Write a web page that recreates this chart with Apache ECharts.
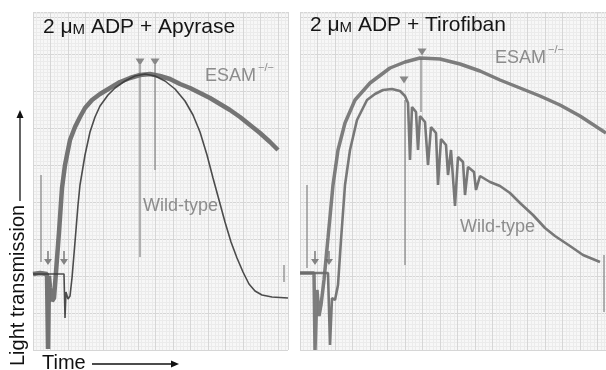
<!DOCTYPE html>
<html>
<head>
<meta charset="utf-8">
<script src="https://cdn.jsdelivr.net/npm/echarts@6/dist/echarts.min.js"></script>
<style>
  html, body { margin: 0; padding: 0; background: #fff; }
  #chart { width: 606px; height: 370px; }
</style>
</head>
<body>
<div id="chart"></div>
<script>
// traces, [time, transmission] (arbitrary units)
const esamApyrase = [
  [0, 76], [7, 77], [14, 76], [15, 76], [15, 1], [16, 74], [17, 62], [19, 49], [21, 52],
  [23, 78], [26, 118], [29, 162], [32, 185], [37, 210], [42, 223], [47, 233], [52, 242],
  [59, 250], [67, 256], [77, 262], [87, 268], [97, 272], [107, 275], [117, 276], [127, 274],
  [137, 271], [147, 266], [157, 262], [167, 257], [177, 252], [187, 246], [197, 240],
  [207, 233], [217, 225], [227, 217], [237, 208], [245, 200]
];
const wtApyrase = [
  [0, 76], [31, 76], [32, 74], [32, 32], [33, 58], [35, 51], [37, 54], [39, 72], [42, 108],
  [45, 145], [47, 165], [52, 195], [57, 218], [62, 233], [67, 244], [75, 255], [82, 262],
  [92, 269], [102, 274], [112, 276], [122, 274], [132, 269], [142, 261], [152, 249],
  [160, 235], [167, 218], [174, 195], [180, 172], [186, 150], [192, 128], [198, 108],
  [204, 92], [210, 78], [216, 66], [222, 59], [229, 55], [239, 53], [255, 52]
];
const esamTirofiban = [
  [0, 77], [14, 77], [15, 77], [15, 0], [17, 60], [19, 34], [21, 45], [24, 70], [28, 112],
  [33, 165], [38, 200], [45, 227], [55, 250], [70, 267], [90, 282], [105, 288], [120, 292],
  [140, 291], [160, 286], [180, 279], [200, 270], [220, 262], [240, 254], [260, 245],
  [280, 234], [306, 217]
];
const wtTirofiban = [
  [0, 77], [28, 77], [30, 75], [30, 5], [32, 52], [35, 50], [38, 65], [41, 110], [45, 165],
  [50, 200], [57, 230], [67, 250], [75, 256], [83, 260], [92, 261], [100, 259], [105, 254],
  [108, 247], [110, 190], [112, 243], [116, 238], [118, 200], [120, 234], [125, 228],
  [128, 185], [131, 223], [136, 217], [138, 165], [141, 211], [146, 205], [148, 175],
  [151, 200], [155, 144], [158, 193], [163, 188], [165, 155], [168, 183], [174, 178],
  [176, 160], [180, 174], [190, 168], [200, 164], [210, 157], [220, 147], [233, 135],
  [245, 122], [255, 114], [270, 104], [283, 95], [300, 88]
];
// recorder marks: vertical pen strokes [time, top, bottom]
const strokesApyrase = [[8, 175, 88], [107, 285, 93], [122, 285, 180], [251, 85, 68]];
const strokesTirofiban = [[7, 165, 82], [105, 250, 85], [121, 292, 238], [304, 95, 38]];
const peaksApyrase = [[107, 288], [122, 288]];
const peaksTirofiban = [[104, 270], [122, 298]];
const addApyrase = [[15, 92], [31, 92]];
const addTirofiban = [[15, 92], [29, 92]];

const FONT = '"Liberation Sans", Arial, sans-serif';
const chart = echarts.init(document.getElementById('chart'));

const paperAxis = (max, interval, minor) => ({
  type: 'value', min: 0, max: max, interval: interval,
  axisLine: { show: false }, axisTick: { show: false }, axisLabel: { show: false },
  splitLine: { show: true, lineStyle: { color: '#d6d6d6', width: 1 } },
  minorTick: { show: false, splitNumber: minor },
  minorSplitLine: { show: true, lineStyle: { color: '#ebebeb', width: 1 } }
});

const trace = (data, idx, color, width) => ({
  type: 'line', xAxisIndex: idx, yAxisIndex: idx, data: data, symbol: 'none',
  lineStyle: { color: color, width: width, opacity: 0.9 }, silent: true, z: 3
});

const strokes = (list, idx) => list.map(s => ({
  type: 'line', xAxisIndex: idx, yAxisIndex: idx, symbol: 'none', silent: true,
  data: [[s[0], s[1]], [s[0], s[2]]], lineStyle: { color: '#8a8a8a', width: 1.3 }, z: 2
}));

const peaks = (data, idx) => ({
  type: 'scatter', xAxisIndex: idx, yAxisIndex: idx, data: data, symbol: 'triangle',
  symbolRotate: 180, symbolSize: [9, 7], itemStyle: { color: '#6e6e6e' }, silent: true, z: 4
});

const arrowPath = 'path://M4,0 L6,0 L6,8 L10,8 L5,14 L0,8 L4,8 Z';
const adds = (data, idx) => ({
  type: 'scatter', xAxisIndex: idx, yAxisIndex: idx, data: data, symbol: arrowPath,
  symbolSize: [8, 14], itemStyle: { color: '#666' }, silent: true, z: 4
});

const label = (x, y, text, size, color) => ({
  type: 'text', x: x, y: y, z: 10,
  style: { text: text, font: size + 'px ' + FONT, fill: color, verticalAlign: 'middle', align: 'left' }
});

const title = (x, y, rest) => ({
  type: 'text', x: x, y: y, z: 10,
  style: {
    text: '{a|2 μ}{b|M}{a| ADP + ' + rest + '}', verticalAlign: 'middle', align: 'left',
    rich: {
      a: { fontSize: 21, fontFamily: FONT, fill: '#151515', lineHeight: 24, verticalAlign: 'bottom' },
      b: { fontSize: 15, fontFamily: FONT, fill: '#151515', lineHeight: 24, verticalAlign: 'bottom', padding: [0, 0, 1, 0] }
    }
  }
});

chart.setOption({
  animation: false,
  backgroundColor: '#fff',
  grid: [
    { left: 33, top: 12, width: 255, height: 338, show: true, backgroundColor: '#f7f7f7', borderWidth: 0 },
    { left: 300, top: 12, width: 306, height: 338, show: true, backgroundColor: '#f7f7f7', borderWidth: 0 }
  ],
  xAxis: [
    Object.assign(paperAxis(255, 17.5, 5), { gridIndex: 0 }),
    Object.assign(paperAxis(306, 17.5, 5), { gridIndex: 1 })
  ],
  yAxis: [
    Object.assign(paperAxis(338, 37, 10), { gridIndex: 0 }),
    Object.assign(paperAxis(338, 37, 10), { gridIndex: 1 })
  ],
  series: [
    ...strokes(strokesApyrase, 0),
    ...strokes(strokesTirofiban, 1),
    trace(esamApyrase, 0, '#666666', 4.5),
    trace(wtApyrase, 0, '#3a3a3a', 1.6),
    trace(esamTirofiban, 1, '#707070', 3.5),
    trace(wtTirofiban, 1, '#6a6a6a', 2.6),
    peaks(peaksApyrase, 0),
    peaks(peaksTirofiban, 1),
    adds(addApyrase, 0),
    adds(addTirofiban, 1)
  ],
  graphic: [
    title(43, 26, 'Apyrase'),
    title(310, 24, 'Tirofiban'),
    label(205, 76, 'ESAM', 18, '#8c8c8c'),
    label(258, 68, '−/−', 11, '#8c8c8c'),
    label(495, 58, 'ESAM', 18, '#8c8c8c'),
    label(548, 50, '−/−', 11, '#8c8c8c'),
    label(143, 206, 'Wild-type', 18, '#8c8c8c'),
    label(460, 227, 'Wild-type', 18, '#8c8c8c'),
    {
      type: 'text', x: 18, y: 366, rotation: Math.PI / 2, z: 10,
      style: { text: 'Light transmission', font: '20px ' + FONT, fill: '#111', align: 'left', verticalAlign: 'middle' }
    },
    { type: 'line', shape: { x1: 20, y1: 201, x2: 20, y2: 116 }, style: { stroke: '#111', lineWidth: 1.3 } },
    { type: 'polygon', shape: { points: [[20, 110], [16.5, 118], [23.5, 118]] }, style: { fill: '#111' } },
    label(42, 363, 'Time', 20, '#111'),
    { type: 'line', shape: { x1: 92, y1: 364, x2: 173, y2: 364 }, style: { stroke: '#111', lineWidth: 1.3 } },
    { type: 'polygon', shape: { points: [[179, 364], [171, 360.5], [171, 367.5]] }, style: { fill: '#111' } }
  ]
});
</script>
</body>
</html>
